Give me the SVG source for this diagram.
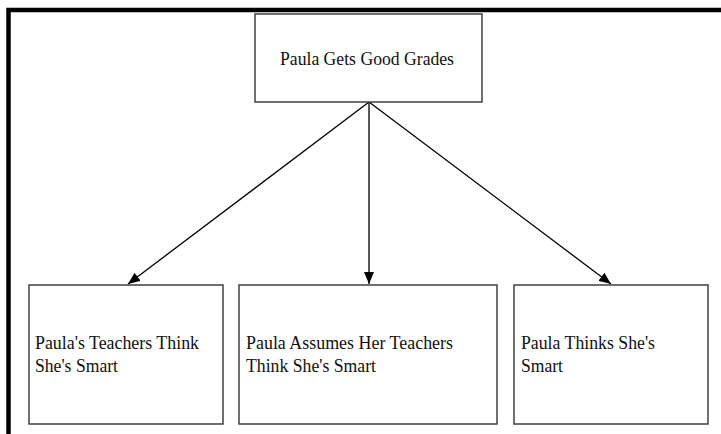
<svg xmlns="http://www.w3.org/2000/svg" width="721" height="434" viewBox="0 0 721 434">
<style>
.box{fill:#fff;stroke:#404040;stroke-width:1.5}
.t{font-family:"Liberation Serif","Times New Roman",serif;font-size:19px;fill:#111}
.c{stroke:#000;stroke-width:1.3;fill:none}
</style>
<defs>
<marker id="ah" viewBox="0 0 12 10" refX="12" refY="5" markerWidth="12" markerHeight="10" markerUnits="userSpaceOnUse" orient="auto">
<path d="M0,0 L12,5 L0,10 Z" fill="#000"/>
</marker>
</defs>
<rect width="721" height="434" fill="#fff"/>
<path d="M8.5,434 V10 H721" fill="none" stroke="#000" stroke-width="4.5"/>
<g id="connectors">
<line class="c" x1="369" y1="102" x2="128" y2="284" marker-end="url(#ah)"/>
<line class="c" x1="369" y1="102" x2="369" y2="284" marker-end="url(#ah)"/>
<line class="c" x1="369" y1="102" x2="611" y2="284" marker-end="url(#ah)"/>
</g>
<g id="top">
<rect class="box" x="255" y="14" width="227" height="88"/>
<text class="t" x="280" y="65" textLength="174" lengthAdjust="spacingAndGlyphs">Paula Gets Good Grades</text>
</g>
<g id="teachers">
<rect class="box" x="29" y="285" width="194" height="139"/>
<text class="t" x="35" y="349" textLength="164" lengthAdjust="spacingAndGlyphs">Paula's Teachers Think</text>
<text class="t" x="35" y="372" textLength="83" lengthAdjust="spacingAndGlyphs">She's Smart</text>
</g>
<g id="assumes">
<rect class="box" x="239" y="285" width="258" height="139"/>
<text class="t" x="246" y="349" textLength="207" lengthAdjust="spacingAndGlyphs">Paula Assumes Her Teachers</text>
<text class="t" x="246" y="372" textLength="130" lengthAdjust="spacingAndGlyphs">Think She's Smart</text>
</g>
<g id="thinks">
<rect class="box" x="514" y="285" width="194" height="139"/>
<text class="t" x="521" y="349" textLength="134" lengthAdjust="spacingAndGlyphs">Paula Thinks She's</text>
<text class="t" x="521" y="372" textLength="42" lengthAdjust="spacingAndGlyphs">Smart</text>
</g>
</svg>
